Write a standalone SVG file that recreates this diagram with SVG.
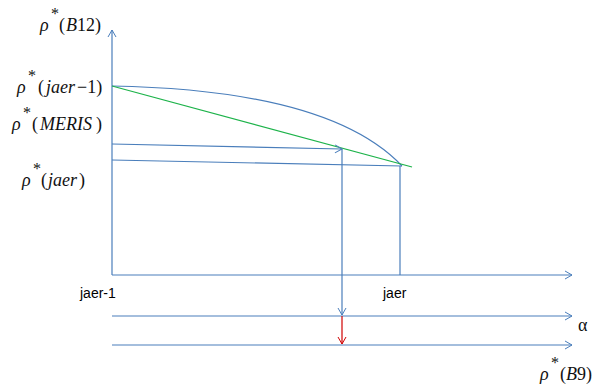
<svg xmlns="http://www.w3.org/2000/svg" width="593" height="392" viewBox="0 0 593 392">
<defs>
<marker id="ab" markerWidth="10" markerHeight="10" refX="8" refY="5" orient="auto" markerUnits="userSpaceOnUse"><path d="M1,1 L8,5 L1,9" fill="none" stroke="#4a7ebb" stroke-width="1"/></marker>
<marker id="ar" markerWidth="10" markerHeight="10" refX="8" refY="5" orient="auto" markerUnits="userSpaceOnUse"><path d="M1,1 L8,5 L1,9" fill="none" stroke="#d00000" stroke-width="1"/></marker>
</defs>
<style>
.b{stroke:#4a7ebb;stroke-width:1.2;fill:none}
.g{stroke:#1db34a;stroke-width:1.2;fill:none}
.r{stroke:#d00000;stroke-width:1.2;fill:none}
.m{font-family:"Liberation Serif","Times New Roman",serif;font-size:18px;fill:#111}
.i{font-style:italic}
.st{font-size:16px}
.s{font-family:"Liberation Sans",Arial,sans-serif;font-size:14px;fill:#000}
</style>
<g id="connectors">
<line class="b" x1="112" y1="275" x2="112" y2="30" marker-end="url(#ab)"/>
<line class="b" x1="112" y1="275" x2="572" y2="275" marker-end="url(#ab)"/>
<path class="b" d="M112,86 Q330,90 402,166"/>
<line class="g" x1="112" y1="86" x2="412" y2="167"/>
<line class="b" x1="112" y1="144" x2="342" y2="149" marker-end="url(#ab)"/>
<line class="b" x1="112" y1="160" x2="402" y2="166"/>
<line class="b" x1="342" y1="149" x2="342" y2="315" marker-end="url(#ab)"/>
<line class="b" x1="400" y1="166" x2="400" y2="275"/>
<line class="b" x1="112" y1="316" x2="572" y2="316" marker-end="url(#ab)"/>
<line class="r" x1="342" y1="316" x2="342" y2="344" marker-end="url(#ar)"/>
<line class="b" x1="112" y1="345" x2="572" y2="345" marker-end="url(#ab)"/>
</g>
<g id="labels">
<text class="m" y="31"><tspan class="i" x="40">ρ</tspan><tspan class="st" x="51" y="19">*</tspan><tspan x="59" y="31">(</tspan><tspan class="i" x="66">B</tspan><tspan>12)</tspan></text>
<text class="m" y="93"><tspan class="i" x="17">ρ</tspan><tspan class="st" x="28" y="81">*</tspan><tspan x="38" y="93">(</tspan><tspan class="i" x="46">jaer</tspan><tspan x="77">−1)</tspan></text>
<text class="m" y="130"><tspan class="i" x="12">ρ</tspan><tspan class="st" x="23" y="118">*</tspan><tspan x="32" y="130">(</tspan><tspan class="i" x="40">MERIS</tspan><tspan x="96">)</tspan></text>
<text class="m" y="186"><tspan class="i" x="22">ρ</tspan><tspan class="st" x="33" y="174">*</tspan><tspan x="41" y="186">(</tspan><tspan class="i" x="48">jaer</tspan><tspan x="79">)</tspan></text>
<text class="s" x="80" y="298">jaer-1</text>
<text class="s" x="383" y="298">jaer</text>
<text class="m" x="578" y="331">α</text>
<text class="m" y="380"><tspan class="i" x="540">ρ</tspan><tspan class="st" x="551" y="368">*</tspan><tspan x="560" y="380">(</tspan><tspan class="i" x="566">B</tspan><tspan>9)</tspan></text>
</g>
</svg>
